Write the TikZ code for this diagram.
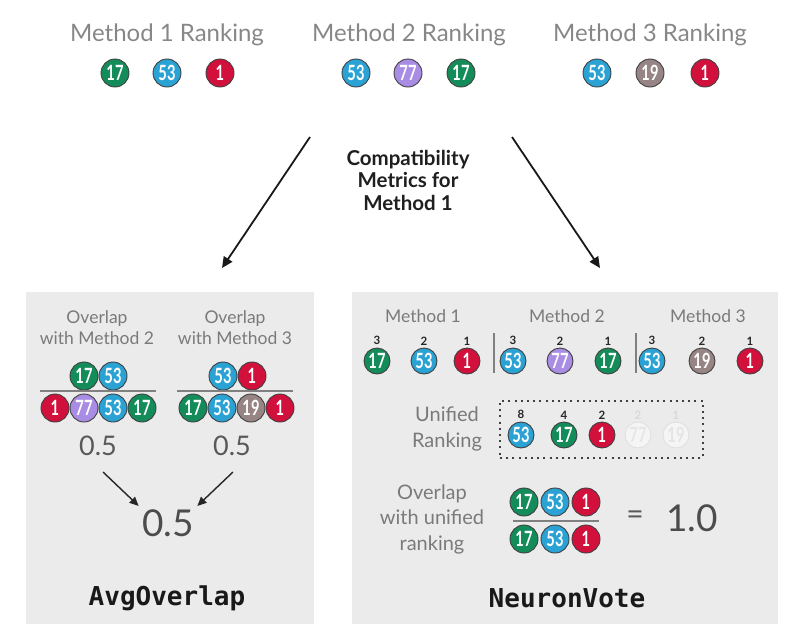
\documentclass[tikz,border=0pt]{standalone}
\usepackage{fontspec}
\setmainfont{Lato}
\setmonofont{DejaVu Sans Mono}
\newfontfamily\ballfam{Lato}[FakeStretch=0.7]
\usetikzlibrary{arrows.meta}
\definecolor{cg}{HTML}{148C5A}
\definecolor{cb}{HTML}{2AA2D4}
\definecolor{cr}{HTML}{D2103C}
\definecolor{cp}{HTML}{A98CE4}
\definecolor{cm}{HTML}{978484}
\definecolor{panelbg}{HTML}{EBEBEB}
\definecolor{txtgray}{HTML}{7A7A7A}
\tikzset{
  ball/.style={circle, draw=black!75, line width=0.9pt, minimum size=26pt, inner sep=0pt,
    text=white, font=\ballfam\bfseries\fontsize{21}{21}\selectfont},
  bigball/.style={minimum size=28pt},
  bg/.style={ball, fill=cg},
  bb/.style={ball, fill=cb},
  br/.style={ball, fill=cr},
  bp/.style={ball, fill=cp},
  bm/.style={ball, fill=cm},
  bf/.style={ball, fill=black!4, draw=black!12, text=black!10},
  toplabel/.style={text=txtgray!90, font=\fontsize{24}{26}\selectfont},
  small/.style={text=txtgray, align=center, font=\fontsize{17.5}{21}\selectfont},
  mid/.style={text=txtgray, align=center, font=\fontsize{20}{25.5}\selectfont},
  rank/.style={font=\bfseries\fontsize{11.5}{11.5}\selectfont, text=black!85},
  val/.style={text=black!65, font=\fontsize{27}{27}\selectfont},
  bigval/.style={text=black!70, font=\fontsize{37}{37}\selectfont},
  metric/.style={text=black!90, font=\ttfamily\bfseries\fontsize{26}{26}\selectfont},
  panel/.style={fill=panelbg, draw=none, anchor=north west, inner sep=0pt},
  fracline/.style={draw=black!50, line width=2pt},
  sepline/.style={draw=black!50, line width=1.6pt},
  arr/.style={-{Triangle[length=11pt,width=10pt]}, line width=1.8pt, draw=black!90},
  sarr/.style={-{Triangle[length=9pt,width=8pt]}, line width=1.4pt, draw=black!85},
}
\begin{document}
\begin{tikzpicture}[x=1pt,y=-1pt]
\useasboundingbox (0,0) rectangle (800,640);
% top rankings
\node[toplabel] (l1) at (167,35) {Method 1 Ranking};
\node[toplabel] (l2) at (409,35) {Method 2 Ranking};
\node[toplabel] (l3) at (650,35) {Method 3 Ranking};
\node[bg, bigball] (t11) at (115,73) {17};
\node[bb, bigball] (t12) at (167,73) {53};
\node[br, bigball] (t13) at (220,73) {1};
\node[bb, bigball] (t21) at (356,73) {53};
\node[bp, bigball] (t22) at (408,73) {77};
\node[bg, bigball] (t23) at (461,73) {17};
\node[bb, bigball] (t31) at (597,73) {53};
\node[bm, bigball] (t32) at (650,73) {19};
\node[br, bigball] (t33) at (705,73) {1};
% central title
\node[align=center, text=black!88, font=\bfseries\fontsize{20.5}{22.5}\selectfont] (title) at (408,180) {Compatibility\\Metrics for\\Method 1};
% panels
\node[panel, minimum width=288pt, minimum height=332pt] (pl) at (26,292) {};
\node[panel, minimum width=426pt, minimum height=332pt] (pr) at (352,292) {};
% main arrows
\coordinate (a1s) at (310,137);
\coordinate (a1e) at (222,268);
\coordinate (a2s) at (512,137);
\coordinate (a2e) at (600,268);
\draw[arr] (a1s) -- (a1e);
\draw[arr] (a2s) -- (a2e);
% left panel
\node[small] (ov2) at (97,328) {Overlap\\with Method 2};
\node[small] (ov3) at (235,328) {Overlap\\with Method 3};
\node[bg, bigball] (n21) at (84,376) {17};
\node[bb, bigball] (n22) at (113,376) {53};
\coordinate (f2a) at (40,391);
\coordinate (f2b) at (156,391);
\draw[fracline] (f2a) -- (f2b);
\node[br, bigball] (d21) at (55,408) {1};
\node[bp, bigball] (d22) at (84,408) {77};
\node[bb, bigball] (d23) at (113,408) {53};
\node[bg, bigball] (d24) at (142,408) {17};
\node[val] (v2) at (98,446) {0.5};
\node[bb, bigball] (n31) at (223,376) {53};
\node[br, bigball] (n32) at (252,376) {1};
\coordinate (f3a) at (177,391);
\coordinate (f3b) at (293,391);
\draw[fracline] (f3a) -- (f3b);
\node[bg, bigball] (d31) at (193,408) {17};
\node[bb, bigball] (d32) at (222,408) {53};
\node[bm, bigball] (d33) at (251,408) {19};
\node[br, bigball] (d34) at (280,408) {1};
\node[val] (v3) at (232,446) {0.5};
\node[bigval] (avg) at (168,523) {0.5};
\coordinate (s1) at (103,472);
\coordinate (s2) at (233,472);
\draw[sarr] (s1) -- (avg.north west);
\draw[sarr] (s2) -- (avg.north east);
\node[metric] (avgname) at (167,598) {AvgOverlap};
% right panel
\node[small] (rm1) at (423,316) {Method 1};
\node[small] (rm2) at (567,316) {Method 2};
\node[small] (rm3) at (708,316) {Method 3};
\node[bg] (r11) at (377,361) {17};
\node[bb] (r12) at (424,361) {53};
\node[br] (r13) at (467,361) {1};
\node[bb] (r21) at (513,361) {53};
\node[bp] (r22) at (560,361) {77};
\node[bg] (r23) at (608,361) {17};
\node[bb] (r31) at (652,361) {53};
\node[bm] (r32) at (702,361) {19};
\node[br] (r33) at (750,361) {1};
\foreach \n/\r in {r11/3,r12/2,r13/1,r21/3,r22/2,r23/1,r31/3,r32/2,r33/1}
  \node[rank, anchor=south] at ([yshift=-1pt]\n.north) {\r};
\coordinate (sp1a) at (494,333);
\coordinate (sp1b) at (494,373);
\coordinate (sp2a) at (636,333);
\coordinate (sp2b) at (636,373);
\draw[sepline] (sp1a) -- (sp1b);
\draw[sepline] (sp2a) -- (sp2b);
\node[mid] (uni) at (447,429) {Unified\\Ranking};
\node[draw=black!75, line width=2pt, dash pattern=on 2pt off 4.2pt, minimum width=203pt, minimum height=57pt, anchor=north west] (ubox) at (499,400) {};
\node[bb] (u1) at (521,435) {53};
\node[bg] (u2) at (564,435) {17};
\node[br] (u3) at (602,435) {1};
\node[bf] (u4) at (638,435) {77};
\node[bf] (u5) at (676,435) {19};
\foreach \n/\r in {u1/8,u2/4,u3/2}
  \node[rank, anchor=south] at ([yshift=-1pt]\n.north) {\r};
\foreach \n/\r in {u4/2,u5/1}
  \node[rank, anchor=south, text=black!15] at ([yshift=-1pt]\n.north) {\r};
\node[mid] (ovu) at (432,519) {Overlap\\with unified\\ranking};
\node[bg, bigball] (w1) at (524,502) {17};
\node[bb, bigball] (w2) at (555,502) {53};
\node[br, bigball] (w3) at (586,502) {1};
\coordinate (fwa) at (513,521);
\coordinate (fwb) at (599,521);
\draw[fracline] (fwa) -- (fwb);
\node[bg, bigball] (x1) at (524,539) {17};
\node[bb, bigball] (x2) at (555,539) {53};
\node[br, bigball] (x3) at (586,539) {1};
\node[text=black!65, font=\fontsize{30}{30}\selectfont] (eq) at (635,518) {=};
\node[bigval] (one) at (692,518) {1.0};
\node[metric] (nv) at (567,598) {NeuronVote};
\end{tikzpicture}
\end{document}
